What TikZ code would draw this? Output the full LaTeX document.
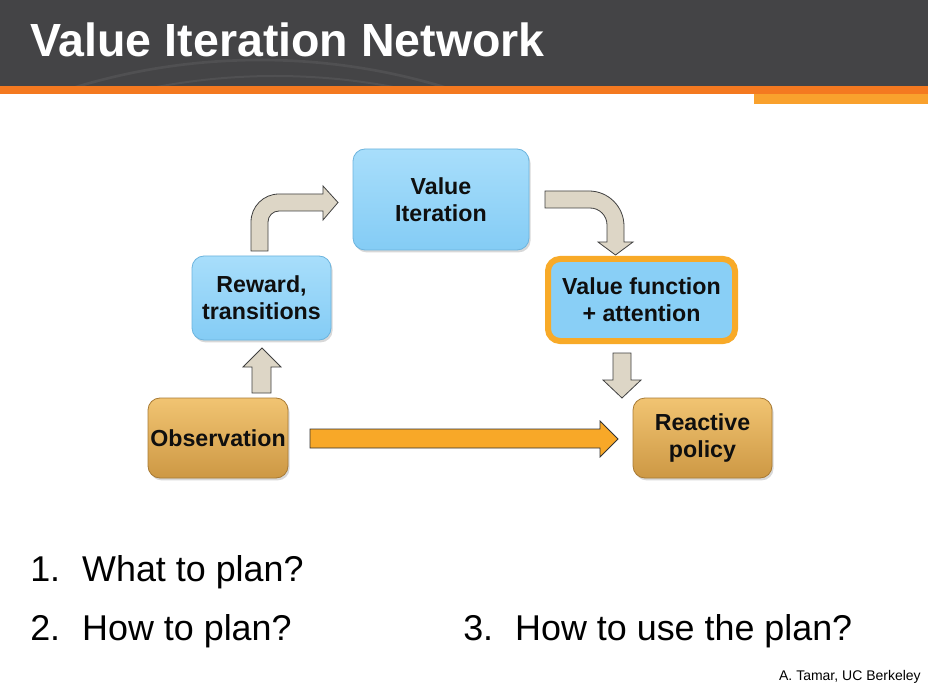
\documentclass[tikz,border=0pt]{standalone}
\usepackage{fontspec}
\setmainfont{Liberation Sans}
\usetikzlibrary{shadows,calc}
\definecolor{hdr}{RGB}{68,68,70}
\definecolor{hdrarc}{RGB}{80,80,82}
\definecolor{stripe}{RGB}{244,121,32}
\definecolor{stripetwo}{RGB}{249,161,45}
\definecolor{bluetop}{RGB}{168,222,251}
\definecolor{bluebot}{RGB}{132,204,245}
\definecolor{blueedge}{RGB}{108,180,222}
\definecolor{goldtop}{RGB}{241,196,114}
\definecolor{goldbot}{RGB}{205,152,68}
\definecolor{goldedge}{RGB}{168,122,52}
\definecolor{beige}{RGB}{221,214,198}
\definecolor{orarrow}{RGB}{248,168,40}
\definecolor{hl}{RGB}{248,170,40}
\definecolor{txt}{RGB}{15,15,15}
\tikzset{
  box/.style={rectangle, rounded corners=9pt, inner sep=0pt, align=center,
    font=\fontsize{17.4}{20.5}\selectfont\bfseries, text=txt,
    drop shadow={shadow xshift=1.2pt, shadow yshift=-1.8pt, opacity=0.3}},
  bluebox/.style={box, top color=bluetop, bottom color=bluebot, draw=blueedge, line width=0.6pt},
  goldbox/.style={box, top color=goldtop, bottom color=goldbot, draw=goldedge, line width=0.6pt},
  hlbox/.style={box, fill=bluebot!85!bluetop, draw=hl, line width=4.5pt},
  blockarrow/.style={fill=beige, draw=black!75, line width=0.6pt, line join=miter},
  orangearrow/.style={fill=orarrow, draw=black!80, line width=0.6pt, line join=miter},
  bullet/.style={anchor=base west, inner sep=0pt, font=\fontsize{26.9}{30}\selectfont, text=black}
}
\begin{document}
\begin{tikzpicture}[x=0.75pt,y=-0.75pt]
\useasboundingbox (0,0) rectangle (928,684);
\fill[white] (0,0) rectangle (928,684);
% header
\fill[hdr] (0,0) rectangle (928,86);
\begin{scope}
  \clip (0,0) rectangle (928,86);
  \draw[hdrarc, line width=2pt] (260,696) circle[radius=477pt];
  \draw[hdrarc, line width=1.5pt] (275,712) circle[radius=477pt];
\end{scope}
\fill[stripe] (0,86) rectangle (928,94);
\fill[stripetwo] (754,94) rectangle (928,104);
\node[anchor=base west, inner sep=0pt, text=white, font=\fontsize{34.9}{40}\selectfont\bfseries] (title) at (30,57) {Value Iteration Network};

% boxes
\node[bluebox, minimum width=132pt, minimum height=75.75pt] (vi) at (441,199.5) {Value\\Iteration};
\node[bluebox, minimum width=104.25pt, minimum height=63pt] (rew) at (261.5,298) {Reward,\\transitions};
\node[hlbox, minimum width=140.25pt, minimum height=61.5pt] (vf) at (641.5,300) {Value function\\+ attention};
\node[goldbox, minimum width=105pt, minimum height=60pt] (obs) at (218,438) {Observation};
\node[goldbox, minimum width=104.25pt, minimum height=60pt] (rp) at (702.5,438) {Reactive\\policy};

% up arrow: observation -> reward
\draw[blockarrow] (252,393) -- (252,367) -- (243,367) -- (262,348) -- (281,367) -- (271,367) -- (271,393) -- cycle;
% bent arrow: reward -> value iteration
\draw[blockarrow] (251,251) -- (251,222) .. controls (251,206.5) and (263.5,194) .. (279,194)
  -- (323,194) -- (323,186) -- (338,202.5) -- (323,220) -- (323,211) -- (279,211)
  .. controls (272.9,211) and (268,215.9) .. (268,222) -- (268,251) -- cycle;
% bent arrow: value iteration -> value function
\draw[blockarrow] (545,191) -- (589,191) .. controls (608.3,191) and (624,206.7) .. (624,226)
  -- (624,242) -- (633,242) -- (615.5,255) -- (598,242) -- (607,242) -- (607,225)
  .. controls (607,215.6) and (599.4,208) .. (590,208) -- (545,208) -- cycle;
% down arrow: value function -> reactive policy
\draw[blockarrow] (613,353) -- (631,353) -- (631,380) -- (641,380) -- (622,398) -- (603,380) -- (613,380) -- cycle;
% orange arrow: observation -> reactive policy
\draw[orangearrow] (310,429) -- (600,429) -- (600,421) -- (618,439) -- (600,457) -- (600,448) -- (310,448) -- cycle;

% bottom text
\node[bullet] (q1) at (30,581) {\makebox[39pt][l]{1.}What to plan?};
\node[bullet] (q2) at (30,640) {\makebox[39pt][l]{2.}How to plan?};
\node[bullet] (q3) at (463,640) {\makebox[39pt][l]{3.}How to use the plan?};
\node[anchor=base east, inner sep=0pt, font=\fontsize{10.5}{12}\selectfont, text=black] (credit) at (921,680) {A. Tamar, UC Berkeley};
\end{tikzpicture}
\end{document}
